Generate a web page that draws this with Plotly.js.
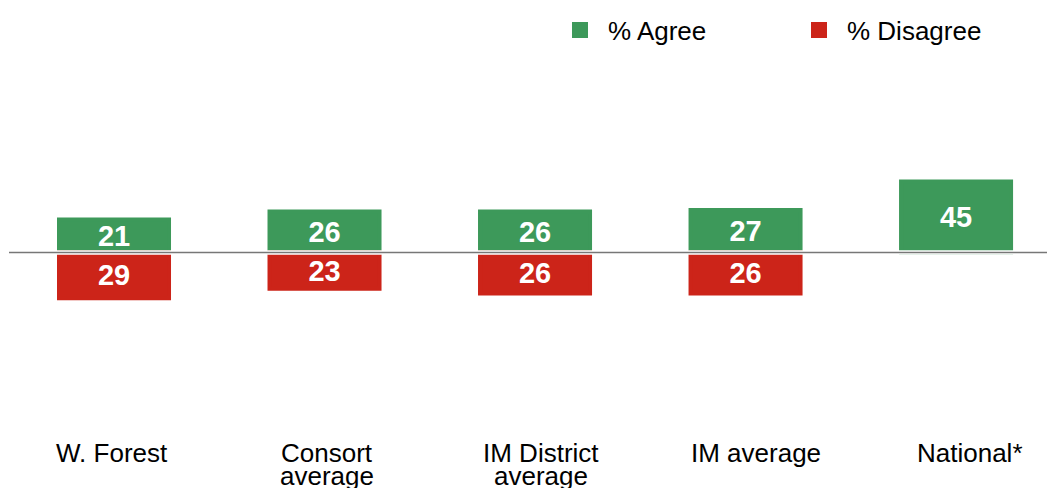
<!DOCTYPE html>
<html>
<head>
<meta charset="utf-8">
<script src="https://cdn.plot.ly/plotly-3.0.1.min.js"></script>
<style>html,body{margin:0;padding:0;background:#fff;}#chart{width:1047px;height:488px;}</style>
</head>
<body>
<div id="chart"></div>
<script>
// ---- data ----
var categories = ["W. Forest", "Consort average", "IM District average", "IM average", "National*"];
var labelLines = [["W. Forest"], ["Consort", "average"], ["IM District", "average"], ["IM average"], ["National*"]];
var agree = [21, 26, 26, 27, 45];
var disagree = [29, 23, 26, 26, null];
var seriesNames = ["% Agree", "% Disagree"];

// ---- styles ----
var GREEN = "#3d995a";
var RED = "#cc2419";
var FONT = "Liberation Sans, Arial, sans-serif";

var disagreeNeg = disagree.map(function (v) { return v == null ? null : -v; });
var disagreeText = disagree.map(function (v) { return v == null ? "" : String(v); });

var common = {
  type: "bar",
  x: categories,
  width: 0.5226,
  textposition: "inside",
  insidetextanchor: "middle",
  constraintext: "none",
  textfont: {family: FONT, size: 29, color: "#ffffff", weight: "bold"},
  hoverinfo: "skip",
  cliponaxis: false
};

var tAgree = Object.assign({}, common, {
  name: seriesNames[0],
  y: agree,
  text: agree.map(String),
  texttemplate: "<b>%{text}</b>",
  marker: {color: GREEN, line: {color: GREEN, width: 4}}
});
var tDisagree = Object.assign({}, common, {
  name: seriesNames[1],
  y: disagreeNeg,
  text: disagreeText,
  texttemplate: "<b>%{text}</b>",
  marker: {color: RED, line: {color: RED, width: 4}}
});

var annotations = [];
labelLines.forEach(function (lines, i) {
  lines.forEach(function (ln, j) {
    annotations.push({
      xref: "x", yref: "paper",
      x: categories[i], y: 0,
      xanchor: "center", yanchor: "middle",
      yshift: -23 - j * 23,
      xshift: 4 * i - 2,
      text: ln, showarrow: false,
      font: {family: FONT, size: 26, color: "#000000"}
    });
  });
});

var layout = {
  width: 1047, height: 488,
  margin: {l: 9, r: 0, t: 60, b: 58},
  paper_bgcolor: "#ffffff", plot_bgcolor: "#ffffff",
  barmode: "relative",
  showlegend: true,
  legend: {
    orientation: "h",
    xref: "container", yref: "container",
    x: 552 / 1047, y: 1 - 30 / 488,
    xanchor: "left", yanchor: "middle",
    font: {family: FONT, size: 26, color: "#000000"},
    itemwidth: 46,
    entrywidth: 178, entrywidthmode: "pixels",
    traceorder: "normal",
    bgcolor: "rgba(0,0,0,0)"
  },
  xaxis: {
    range: [-0.4988, 4.432],
    showticklabels: false, showgrid: false, zeroline: false, showline: false, ticks: "",
    fixedrange: true
  },
  yaxis: {
    range: [-112.7, 122.2],
    showticklabels: false, showgrid: false, zeroline: false, showline: false, ticks: "",
    fixedrange: true
  },
  shapes: [
    {type: "line", xref: "paper", yref: "y", x0: 0, x1: 1, y0: 0, y1: 0,
     line: {color: "#ffffff", width: 4.5}, layer: "above"},
    {type: "line", xref: "paper", yref: "y", x0: 0, x1: 1, y0: 0, y1: 0,
     line: {color: "#777777", width: 1.5}, layer: "above"}
  ],
  annotations: annotations
};

Plotly.newPlot("chart", [tAgree, tDisagree], layout, {staticPlot: true, displayModeBar: false});
</script>
</body>
</html>
